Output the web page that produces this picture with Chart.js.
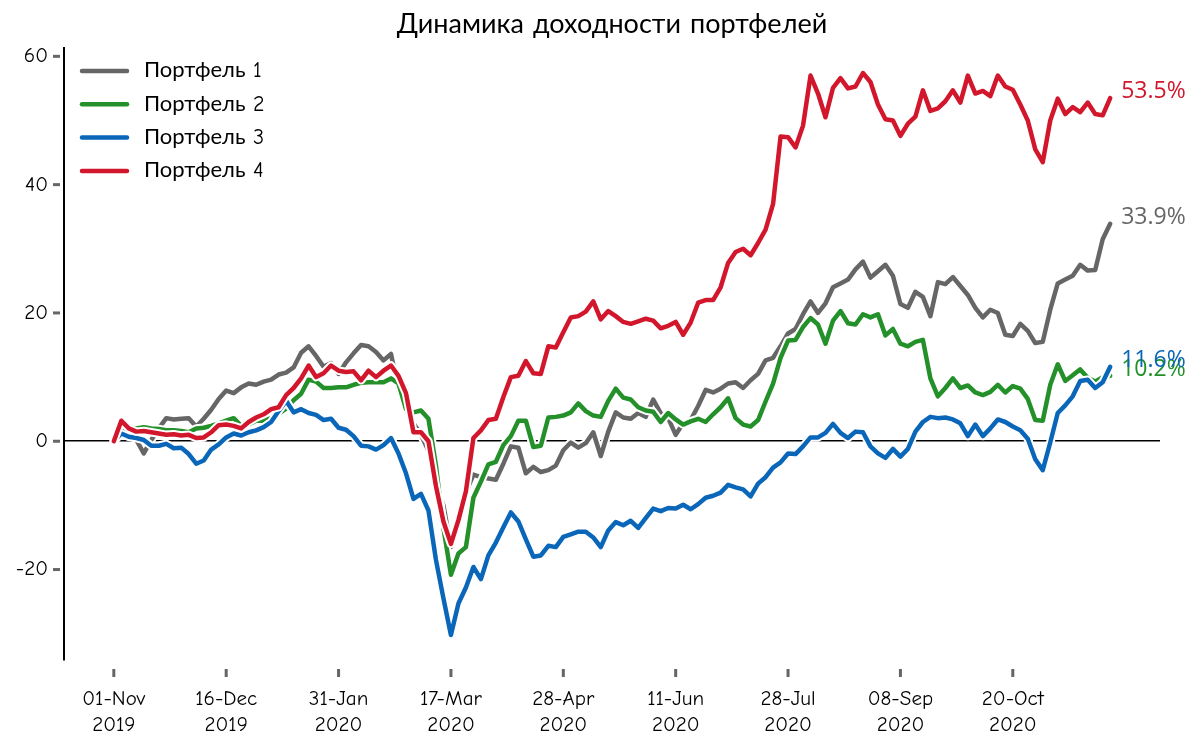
<!DOCTYPE html>
<html>
<head>
<meta charset="utf-8">
<script src="https://cdn.jsdelivr.net/npm/chart.js@4.4.1/dist/chart.umd.min.js"></script>
<style>
  html, body { margin: 0; padding: 0; background: #fff; }
  #wrap { width: 1200px; height: 744px; }
</style>
</head>
<body>
<div id="wrap"><canvas id="chart" width="1200" height="744"></canvas></div>
<script>
// ---- Data (every 2nd trading day, 01-Nov-2019 .. end Nov 2020) ----
const seriesNames = ["Портфель 1", "Портфель 2", "Портфель 3", "Портфель 4"];
const seriesColors = ["#666666", "#23902a", "#0a66b8", "#d2162c"];

const xTickIndex = [0, 15, 30, 45, 60, 75, 90, 105, 120];
const xTickLabels = [
  ["01-Nov", "2019"], ["16-Dec", "2019"], ["31-Jan", "2020"],
  ["17-Mar", "2020"], ["28-Apr", "2020"], ["11-Jun", "2020"],
  ["28-Jul", "2020"], ["08-Sep", "2020"], ["20-Oct", "2020"]
];
const yTicks = [-20, 0, 20, 40, 60];

const portfolio1 = [
  0, 3.0, 1.5, 0.2, -1.9, 0.2, 2.0, 3.6, 3.4, 3.5, 3.6, 2.3, 3.5, 4.9, 6.6,
  7.9, 7.5, 8.4, 9.0, 8.8, 9.3, 9.6, 10.4, 10.7, 11.5, 13.8, 14.8, 13.3, 11.6, 12.2,
  10.5, 12.3, 13.7, 15.0, 14.8, 13.9, 12.6, 13.6, 8.0, 5.0, 2.8, 1.0, -1.5, -6.5, -10.0,
  -16.5, -12.8, -8.0, -5.2, -5.6, -5.8, -6.0, -3.5, -0.8, -1.0, -5.0, -4.0, -4.8, -4.5, -3.8,
  -1.4, -0.2, -1.0, -0.3, 1.4, -2.3, 1.5, 4.5, 3.7, 3.5, 4.4, 3.8, 6.5, 4.4, 3.6,
  1.0, 2.8, 3.3, 5.5, 8.0, 7.6, 8.2, 9.0, 9.2, 8.3, 9.5, 10.5, 12.6, 13.0, 14.8,
  16.8, 17.5, 19.8, 21.8, 20.0, 21.5, 24.0, 24.6, 25.2, 26.8, 28.0, 25.5, 26.5, 27.5, 25.8,
  21.4, 20.8, 23.3, 22.5, 19.5, 24.8, 24.5, 25.6, 24.2, 22.8, 20.8, 19.3, 20.5, 20.0, 16.6,
  16.4, 18.3, 17.2, 15.3, 15.5, 20.5, 24.6, 25.2, 25.8, 27.5, 26.6, 26.7, 31.5, 33.9
];
const portfolio2 = [
  0, 1.7, 1.5, 2.0, 2.2, 2.0, 1.9, 1.7, 1.7, 1.6, 1.4, 2.0, 2.1, 2.4, 2.8,
  3.2, 3.6, 2.4, 2.6, 3.2, 3.2, 3.6, 4.3, 5.1, 6.4, 7.4, 9.6, 9.3, 8.3, 8.3,
  8.4, 8.4, 8.8, 9.1, 9.2, 9.2, 9.2, 9.8, 9.0, 5.0, 4.5, 4.8, 3.5, -3.8, -13.5,
  -20.8, -17.5, -16.5, -8.8, -6.3, -3.6, -3.2, -0.6, 0.8, 3.2, 3.2, -0.9, -0.7, 3.7, 3.8,
  4.0, 4.5, 5.9, 4.7, 4.0, 3.8, 6.3, 8.2, 6.8, 6.5, 5.3, 4.8, 4.6, 3.0, 4.4,
  3.4, 2.6, 3.1, 3.5, 3.0, 4.2, 5.3, 6.7, 3.6, 2.6, 2.3, 3.3, 6.2, 9.0, 13.0,
  15.7, 15.8, 17.8, 19.2, 18.2, 15.2, 18.8, 20.3, 18.4, 18.2, 19.8, 19.3, 19.8, 16.5, 17.5,
  15.2, 14.8, 15.5, 15.8, 9.8, 7.0, 8.3, 9.8, 8.3, 8.7, 7.6, 7.2, 7.7, 8.8, 7.6,
  8.6, 8.2, 6.6, 3.3, 3.2, 8.8, 12.0, 9.4, 10.3, 11.2, 9.9, 9.3, 10.0, 10.2
];
const portfolio3 = [
  0, 1.2, 0.7, 0.5, 0.2, -0.7, -0.7, -0.4, -1.1, -1.0, -2.0, -3.5, -3.0, -1.3, -0.5,
  0.6, 1.2, 0.9, 1.4, 1.7, 2.2, 3.0, 4.7, 6.3, 4.5, 5.0, 4.4, 4.1, 3.3, 3.5,
  2.1, 1.8, 0.8, -0.7, -0.8, -1.3, -0.6, 0.5, -1.9, -5.0, -9.0, -8.2, -10.8, -18.5, -24.5,
  -30.2, -25.3, -22.8, -19.6, -21.5, -17.8, -15.8, -13.4, -11.1, -12.5, -15.3, -18.0, -17.8, -16.3, -16.5,
  -14.9, -14.5, -14.1, -14.1, -15.0, -16.5, -13.9, -12.6, -13.1, -12.4, -13.5, -12.0, -10.5, -10.9, -10.4,
  -10.5, -9.9, -10.6, -9.8, -8.8, -8.5, -8.0, -6.8, -7.2, -7.5, -8.6, -6.6, -5.6, -4.1, -3.3,
  -1.9, -2.0, -0.8, 0.6, 0.6, 1.3, 2.7, 1.3, 0.5, 1.5, 1.4, -0.8, -1.9, -2.6, -1.2,
  -2.4, -1.2, 1.5, 3.0, 3.8, 3.6, 3.7, 3.4, 2.8, 0.8, 2.6, 0.8, 2.0, 3.4, 3.0,
  2.3, 1.7, 0.4, -2.8, -4.5, -0.2, 4.4, 5.6, 7.0, 9.4, 9.6, 8.3, 9.2, 11.6
];
const portfolio4 = [
  0, 3.2, 2.0, 1.5, 1.6, 1.4, 1.2, 1.0, 1.1, 0.9, 1.0, 0.5, 0.6, 1.4, 2.5,
  2.6, 2.4, 2.0, 3.0, 3.7, 4.2, 5.0, 5.3, 7.2, 8.3, 9.8, 11.8, 10.0, 10.6, 11.8,
  11.0, 10.8, 10.9, 9.5, 11.0, 10.0, 11.0, 11.8, 10.2, 7.5, 1.4, 1.4, 0.0, -7.0, -12.5,
  -16.0, -12.3, -7.8, 0.5, 1.7, 3.3, 3.5, 6.9, 10.0, 10.2, 12.5, 10.6, 10.5, 14.8, 14.6,
  17.0, 19.3, 19.5, 20.2, 21.8, 19.0, 20.3, 19.5, 18.6, 18.3, 18.7, 19.1, 18.8, 17.6, 18.0,
  18.6, 16.6, 18.5, 21.6, 22.0, 22.0, 24.0, 27.8, 29.5, 30.0, 29.0, 30.9, 33.0, 37.0, 47.5,
  47.4, 45.8, 49.2, 57.0, 54.2, 50.5, 55.1, 56.6, 55.0, 55.3, 57.4, 56.0, 52.5, 50.2, 50.0,
  47.6, 49.5, 50.6, 54.7, 51.5, 51.9, 53.0, 54.7, 52.8, 57.0, 54.2, 54.6, 53.8, 57.0, 55.3,
  54.8, 52.5, 50.0, 45.5, 43.5, 50.0, 53.4, 51.0, 52.1, 51.3, 52.8, 51.0, 50.8, 53.5
];
const allSeries = [portfolio1, portfolio2, portfolio3, portfolio4];

// ---- Styling ----
const handFont = "'Comic Sans MS', 'Comic Neue', 'Lato', 'Noto Sans', sans-serif";
Chart.defaults.font.family = handFont;
Chart.defaults.color = "#000";

function toPoints(arr) {
  return arr.map((v, i) => ({ x: i, y: v }));
}

// white halo under every line (xkcd-like), later series on top
const datasets = [];
allSeries.forEach((arr, k) => {
  const base = (allSeries.length - 1 - k) * 2;
  datasets.push({
    label: "_halo" + k,
    data: toPoints(arr),
    borderColor: "#ffffff",
    borderWidth: 8.5,
    pointRadius: 0,
    tension: 0,
    borderJoinStyle: "round",
    borderCapStyle: "round",
    order: base + 1
  });
  datasets.push({
    label: seriesNames[k],
    data: toPoints(arr),
    borderColor: seriesColors[k],
    borderWidth: 4.5,
    pointRadius: 0,
    tension: 0,
    borderJoinStyle: "round",
    borderCapStyle: "round",
    order: base
  });
});

// ---- Plugins: legend, tick marks, end labels, title ----
const decorPlugin = {
  id: "decor",
  afterDatasetsDraw(chart) {
    const ctx = chart.ctx;
    const xs = chart.scales.x;
    const ys = chart.scales.y;
    ctx.save();

    // end-of-line value labels
    ctx.font = "23px 'Open Sans', 'Noto Sans', sans-serif";
    ctx.textAlign = "left";
    ctx.textBaseline = "alphabetic";
    allSeries.forEach((arr, k) => {
      const last = arr.length - 1;
      const px = xs.getPixelForValue(last);
      const py = ys.getPixelForValue(arr[last]);
      ctx.fillStyle = seriesColors[k];
      ctx.fillText(arr[last].toFixed(1) + "%", px + 11, py);
    });
    ctx.restore();
  },
  afterDraw(chart) {
    const ctx = chart.ctx;
    const xs = chart.scales.x;
    const ys = chart.scales.y;
    const area = chart.chartArea;
    ctx.save();

    // tick marks, detached from the axes like in xkcd style
    ctx.fillStyle = "#666666";
    xTickIndex.forEach(v => {
      const px = xs.getPixelForValue(v);
      ctx.fillRect(px - 1.5, area.bottom + 9, 3, 8);
    });
    yTicks.forEach(v => {
      const py = ys.getPixelForValue(v);
      ctx.fillRect(area.left - 11, py - 1.5, 7, 3);
    });

    // title
    ctx.fillStyle = "#000";
    ctx.font = "27px " + handFont;
    ctx.textAlign = "center";
    ctx.textBaseline = "middle";
    ctx.fillText("Динамика доходности портфелей", (area.left + area.right) / 2, 25);

    // legend
    ctx.font = "22px " + handFont;
    ctx.textAlign = "left";
    seriesNames.forEach((name, k) => {
      const ly = area.top + 23 + k * 33.3;
      ctx.strokeStyle = seriesColors[k];
      ctx.lineWidth = 4.5;
      ctx.lineCap = "round";
      ctx.beginPath();
      ctx.moveTo(area.left + 18, ly);
      ctx.lineTo(area.left + 63, ly);
      ctx.stroke();
      ctx.fillStyle = "#000";
      ctx.fillText(name, area.left + 80, ly);
    });
    ctx.restore();
  }
};

new Chart(document.getElementById("chart"), {
  type: "line",
  data: { datasets },
  plugins: [decorPlugin],
  options: {
    responsive: false,
    animation: false,
    layout: { padding: { top: 48, right: 40, left: 0, bottom: 0 } },
    plugins: {
      legend: { display: false },
      title: { display: false },
      tooltip: { enabled: false }
    },
    scales: {
      x: {
        type: "linear",
        min: -6.65,
        max: 139.65,
        afterBuildTicks: s => { s.ticks = xTickIndex.map(v => ({ value: v })); },
        afterFit: s => { s.height = 84; },
        border: { display: false },
        grid: { display: false },
        ticks: {
          autoSkip: false,
          maxRotation: 0,
          padding: 18,
          font: { size: 21, lineHeight: 1.25 },
          color: "#000",
          callback: v => xTickLabels[xTickIndex.indexOf(v)]
        }
      },
      y: {
        min: -34.1,
        max: 61.3,
        afterBuildTicks: s => { s.ticks = yTicks.map(v => ({ value: v })); },
        afterFit: s => { s.width = 64; },
        border: { display: true, color: "#000", width: 2 },
        grid: {
          color: c => (c.tick && c.tick.value === 0 ? "#000" : "rgba(0,0,0,0)"),
          lineWidth: 1.5,
          drawTicks: false
        },
        ticks: {
          padding: 16,
          font: { size: 21 },
          color: "#000"
        }
      }
    }
  }
});
</script>
</body>
</html>
